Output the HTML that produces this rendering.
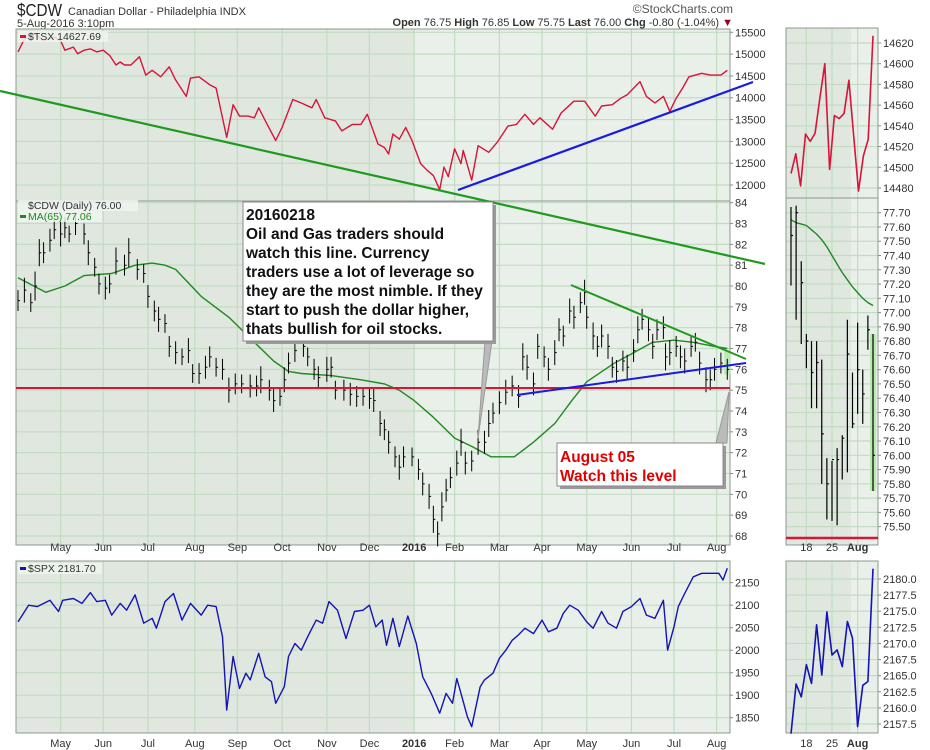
<!DOCTYPE html>
<html><head><meta charset="utf-8"><style>
html,body{margin:0;padding:0;background:#fff;}
svg{display:block;font-family:"Liberation Sans",Arial,sans-serif;}
.ax{font-size:11px;fill:#333;}
</style></head><body>
<svg id="chart" width="930" height="750" viewBox="0 0 930 750" xmlns="http://www.w3.org/2000/svg">
<g id="hdr">
<text x="17" y="16" font-size="18" fill="#222" transform="translate(17 0) scale(0.85 1) translate(-17 0)">$CDW</text>
<text x="68" y="15" font-size="11" fill="#333">Canadian Dollar - Philadelphia INDX</text>
<text x="17" y="27" font-size="11" fill="#333">5-Aug-2016 3:10pm</text>
<text x="733" y="13" font-size="12" fill="#555" text-anchor="end">©StockCharts.com</text>
<text x="733" y="26" font-size="11" fill="#333" text-anchor="end"><tspan font-weight="bold">Open</tspan> 76.75 <tspan font-weight="bold">High</tspan> 76.85 <tspan font-weight="bold">Low</tspan> 75.75 <tspan font-weight="bold">Last</tspan> 76.00 <tspan font-weight="bold">Chg</tspan> -0.80 (-1.04%)<tspan fill="#a00020"> ▼</tspan></text>
</g>
</svg>
<script>
// ---------- DATA ----------
const monthLabels = ["May","Jun","Jul","Aug","Sep","Oct","Nov","Dec","2016","Feb","Mar","Apr","May","Jun","Jul","Aug"];
const monthDays = [20,40,61,83,103,124,145,165,186,205,226,246,267,288,308,328];
const tsxTicks = [15500,15000,14500,14000,13500,13000,12500,12000];
const cdwTicks = [84,83,82,81,80,79,78,77,76,75,74,73,72,71,70,69,68];
const spxTicks = [2150,2100,2050,2000,1950,1900,1850];

const tsxDays = [0,3,8,12,17,20,22,26,28,31,34,37,40,43,46,48,50,53,57,60,63,67,71,74,79,81,85,90,93,98,101,104,108,111,113,117,121,124,129,133,138,140,144,149,152,157,161,164,169,172,174,176,179,182,185,189,192,195,198,200,202,205,208,209,213,216,221,225,230,234,238,242,245,251,255,261,266,271,274,279,283,286,292,295,299,303,306,309,312,315,321,325,330,333];
const tsxVals = [15050,15350,15460,15310,15390,15310,15090,15160,15010,15090,15120,15050,15090,14970,14750,14820,14750,14750,14940,14520,14630,14480,14710,14410,14030,14450,14480,14300,14220,13090,13840,13580,13580,13540,13770,13390,13020,13320,13960,13880,13770,13960,13540,13470,13240,13390,13390,13620,12940,12860,12710,13170,13050,13320,13020,12490,12340,12220,11890,12410,12190,12830,12490,12790,12110,12900,12750,12980,13350,13390,13620,13390,13540,13280,13650,13920,13920,13580,13810,13840,13990,14070,14370,14030,13880,14030,13690,13990,14220,14480,14560,14520,14520,14630];

const cdwDays = [0,3,6,8,10,12,15,17,20,22,24,27,31,33,36,38,41,43,46,50,52,56,59,61,64,66,69,71,74,77,80,82,85,88,90,93,96,99,102,105,109,112,114,118,120,123,125,127,130,134,136,139,141,145,147,149,153,156,159,162,165,167,170,172,174,177,179,181,185,188,190,193,195,197,199,201,203,206,208,210,213,216,219,221,223,226,229,232,235,237,239,242,244,247,249,252,254,256,259,261,264,266,267,270,272,274,277,279,281,284,286,289,291,293,296,298,300,303,304,306,309,311,313,316,318,320,323,325,327,330,333];
const cdwClose = [79.3,79.8,79.2,80.0,81.6,81.6,82.2,82.7,82.5,82.8,82.5,83.0,82.5,81.6,80.9,80.1,79.9,80.1,81.2,81.0,81.6,80.8,80.6,79.5,78.8,78.4,78.2,77.1,76.8,76.6,76.9,75.8,75.8,76.1,76.6,76.1,76.0,75.0,75.3,75.3,75.2,75.2,75.5,75.0,74.5,74.7,75.5,76.3,76.9,77.1,76.6,76.0,75.6,76.0,76.1,75.0,75.0,74.8,74.7,74.7,74.6,74.5,73.4,73.1,72.5,71.8,71.3,71.8,71.8,71.2,70.5,69.9,68.8,68.1,69.4,70.2,70.8,71.5,72.5,71.5,71.6,72.5,72.5,73.4,73.9,74.4,74.9,75.2,74.7,76.6,76.1,75.3,77.1,76.6,76.0,76.8,77.9,77.6,78.8,78.5,79.2,79.7,78.5,77.6,77.1,77.6,77.1,76.1,75.9,76.4,76.1,76.9,77.9,78.4,77.9,77.1,77.9,78.0,76.6,76.8,77.1,76.6,76.4,77.1,77.3,76.3,75.5,75.5,76.0,76.3,76.0];
const cdwSpread = [1.0,1.2,0.9,1.4,1.3,1.0,1.1,0.9,1.2,1.0,0.8,1.1,1.0,1.2,0.9,1.0,1.1,0.9,1.3,1.0,1.4,1.0,0.9,1.1,1.0,1.2,0.9,1.0,1.1,0.8,1.2,0.9,1.0,1.1,1.0,0.9,1.0,1.2,1.0,0.9,1.1,1.0,1.3,1.0,1.1,0.9,1.2,1.0,1.1,1.0,0.9,1.0,1.1,1.2,1.0,0.9,1.0,1.1,1.0,0.9,1.0,1.1,1.2,1.0,1.1,1.0,1.2,1.0,0.9,1.0,1.1,1.2,1.3,1.2,1.4,1.1,1.0,1.2,1.3,1.1,1.0,1.2,1.1,1.3,1.0,1.1,1.2,1.0,1.1,1.3,1.2,1.1,1.2,1.0,1.1,1.2,1.1,1.0,1.2,1.1,1.0,1.2,1.1,1.3,1.0,1.1,1.2,1.0,1.1,1.0,1.2,1.1,1.3,1.0,1.1,1.2,1.0,1.1,1.3,1.2,1.0,1.1,1.2,1.0,0.9,1.1,1.2,1.0,1.1];

const maDays = [0,13,22,31,44,55,63,69,74,86,99,111,120,127,133,147,161,172,179,186,195,205,213,222,233,242,252,260,267,280,289,298,308,317,327,333];
const maVals = [80.4,79.7,80.0,80.5,80.6,81.0,81.1,81.0,80.8,79.5,78.5,77.3,76.4,75.9,75.8,75.7,75.5,75.3,75.0,74.5,73.7,72.7,72.3,71.8,71.8,72.5,73.4,74.5,75.4,76.3,76.8,77.3,77.4,77.3,77.1,77.0];

const spxDays = [0,5,9,15,19,21,26,30,34,37,41,44,48,51,55,59,63,65,69,73,77,81,86,89,93,96,98,101,104,107,109,113,116,119,121,125,127,130,133,136,140,143,146,150,154,158,162,165,168,171,173,176,179,183,187,190,194,198,201,204,206,208,211,213,217,219,223,226,229,232,235,238,242,246,249,253,256,259,263,267,270,274,277,281,284,288,292,295,299,303,305,308,310,313,317,321,325,329,331,333];
const spxVals = [2063,2100,2097,2111,2086,2111,2115,2104,2128,2108,2111,2078,2104,2089,2123,2060,2071,2049,2108,2126,2067,2104,2078,2100,2097,2030,1867,1986,1915,1949,1934,1993,1941,1930,1882,1919,1986,2015,2000,2030,2067,2060,2108,2089,2026,2086,2089,2100,2052,2067,2011,2071,2008,2076,2015,1941,1904,1860,1904,1882,1937,1904,1852,1830,1919,1934,1949,1982,2000,2022,2034,2049,2037,2067,2041,2049,2082,2100,2089,2063,2049,2086,2060,2049,2086,2097,2115,2078,2071,2111,2000,2052,2097,2126,2163,2171,2171,2171,2156,2182];

// side (zoomed) panels
const sideLabels = ["18","25","Aug"];
const sideLabelIdx = [3,8,13];
const sideTsxTicks = [14620,14600,14580,14560,14540,14520,14500,14480];
const sideTsxVals = [14494,14513,14482,14532,14525,14533,14567,14600,14498,14550,14547,14552,14584,14530,14477,14511,14527,14627];
const sideCdwTicks = [77.7,77.6,77.5,77.4,77.3,77.2,77.1,77.0,76.9,76.8,76.7,76.6,76.5,76.4,76.3,76.2,76.1,76.0,75.9,75.8,75.7,75.6,75.5];
const sideCdwHigh = [77.74,77.75,77.36,76.85,76.80,76.80,76.67,75.98,75.96,76.05,76.14,76.95,76.58,76.93,76.60,76.98,76.85];
const sideCdwLow = [77.19,76.95,76.78,76.61,76.33,76.33,75.80,75.55,75.54,75.51,75.83,75.88,76.19,76.29,76.22,76.74,75.75];
const sideCdwClose = [77.54,77.70,77.21,76.80,76.58,76.65,76.15,75.80,75.97,75.97,76.12,76.71,76.22,76.60,76.43,76.88,76.00];
const sideMaVals = [77.65,77.63,77.62,77.61,77.58,77.55,77.51,77.46,77.40,77.34,77.28,77.23,77.18,77.14,77.10,77.07,77.05];
const sideSpxTicks = [2180.0,2177.5,2175.0,2172.5,2170.0,2167.5,2165.0,2162.5,2160.0,2157.5];
const sideSpxVals = [2156.0,2163.7,2161.7,2166.7,2163.8,2172.9,2165.1,2174.9,2168.2,2169.0,2166.4,2173.4,2170.8,2157.1,2163.5,2164.1,2181.6];

// ---------- GEOMETRY ----------
const L=16, R=730, SL=786, SR=878;
const P = {tsx:[29,201], cdw:[201,545], spx:[561,733]};
const xMain = d => L + 2 + d*2.13;
const yTsx = v => 32.3 + (15500-v)*0.04363;
const yCdw = v => 202.7 + (84-v)*20.83;
const ySpx = v => 582.7 + (2150-v)*0.45;
const xSide = (i,n) => SL + 5 + i*(SR-SL-10)/(n-1);
const ySTsx = v => 43 + (14620-v)*1.0357;
const ySCdw = v => 212.7 + (77.7-v)*142.7;
const ySSpx = v => 579 + (2180-v)*6.444;

const NS="http://www.w3.org/2000/svg";
const svg=document.getElementById('chart');
function mk(tag, attrs, parent){const e=document.createElementNS(NS,tag);for(const k in attrs)e.setAttribute(k,attrs[k]);(parent||svg).appendChild(e);return e;}

function panel(name, x0,x1,y0,y1, shadeTo, ticks, yf, fmt, days, dayX){
  const g=mk('g',{});
  
  
  mk('rect',{x:x0,y:y0,width:x1-x0,height:y1-y0,fill:'#e9efe9'},g);
  mk('rect',{x:x0,y:y0,width:shadeTo-x0,height:y1-y0,fill:'#dfe7df'},g);
  ticks.forEach(t=>{const y=yf(t); if(y>y0+1&&y<y1-1) mk('line',{x1:x0,x2:x1,y1:y,y2:y,stroke:'#c3dbc3','stroke-width':1.2},g);
    const lb=mk('text',{x:x1+5,y:y+4,class:'ax'},g); lb.textContent=fmt(t);
    
    
    mk('line',{x1:x1,x2:x1+3,y1:y,y2:y,stroke:'#888'},g);
  });
  days.forEach(d=>{const x=dayX(d); mk('line',{x1:x,x2:x,y1:y0,y2:y1,stroke:'#c3dbc3','stroke-width':1.2},g);});
  mk('rect',{x:x0,y:y0,width:x1-x0,height:y1-y0,fill:'none',stroke:'#8d9a8d'},g);
  return g;
}
function xLabels(y, name){
  monthLabels.forEach((m,i)=>{const x=xMain(monthDays[i]);
    const t=mk('text',{x:x,y:y,class:'ax','text-anchor':'middle','font-weight':m==='2016'?'bold':'normal'});
    t.textContent=m;
    
    
  });
  sideLabels.forEach((m,i)=>{const x=xSide(sideLabelIdx[i],17);
    const t=mk('text',{x:x,y:y,class:'ax','text-anchor':'middle','font-weight':m==='Aug'?'bold':'normal'});
    t.textContent=m;
    
    
  });
}
const sideGridIdx = sideLabelIdx;
panel('tsx',L,R,P.tsx[0],P.tsx[1],414,tsxTicks,yTsx,v=>v,monthDays,xMain);
panel('cdw',L,R,P.cdw[0],P.cdw[1],414,cdwTicks,yCdw,v=>v,monthDays,xMain);
panel('spx',L,R,P.spx[0],P.spx[1],414,spxTicks,ySpx,v=>v,monthDays,xMain);
panel('side-tsx',SL,SR,28,198,851,sideTsxTicks,ySTsx,v=>v,sideGridIdx,i=>xSide(i,17));
panel('side-cdw',SL,SR,198,545,851,sideCdwTicks,ySCdw,v=>v.toFixed(2),sideGridIdx,i=>xSide(i,17));
panel('side-spx',SL,SR,561,733,851,sideSpxTicks,ySSpx,v=>v.toFixed(1),sideGridIdx,i=>xSide(i,17));
xLabels(551,'mid');
xLabels(747,'bottom');

const hl1=mk('rect',{x:xMain(333)-3,y:yCdw(76.85),width:6,height:yCdw(75.75)-yCdw(76.85),fill:'#b8eab0'});


const hl2=mk('rect',{x:xSide(16,17)-3,y:ySCdw(76.85),width:6,height:ySCdw(75.75)-ySCdw(76.85),fill:'#b8eab0'});



function line(xs, ys, color, w, name){
  const pts=xs.map((x,i)=>x.toFixed(1)+','+ys[i].toFixed(1)).join(' ');
  const p=mk('polyline',{points:pts,fill:'none',stroke:color,'stroke-width':w,'stroke-linejoin':'round'});
  
  
}
line(tsxDays.map(xMain), tsxVals.map(yTsx), '#d8143a', 1.4, 'tsx-line');
line(maDays.map(xMain), maVals.map(yCdw), '#1e8a1e', 1.4, 'cdw-ma65-line');
line(spxDays.map(xMain), spxVals.map(ySpx), '#1414b4', 1.4, 'spx-line');
line(sideTsxVals.map((v,i)=>xSide(i,sideTsxVals.length)), sideTsxVals.map(ySTsx), '#d8143a', 1.6, 'side-tsx-line');
line(sideMaVals.map((v,i)=>xSide(i,sideMaVals.length)), sideMaVals.map(ySCdw), '#1e8a1e', 1.4, 'side-ma65-line');
line(sideSpxVals.map((v,i)=>xSide(i,sideSpxVals.length)), sideSpxVals.map(v=>ySSpx(v)), '#1414b4', 1.6, 'side-spx-line');

cdwDays.forEach((d,i)=>{
  const c=cdwClose[i], s=(cdwSpread[i]!==undefined?cdwSpread[i]:1.0);
  const x=xMain(d);
  const b=mk('path',{d:`M${x},${yCdw(c+s/2)}V${yCdw(c-s/2)}M${x},${yCdw(c)}h2`,stroke:'#000','stroke-width':1,fill:'none'});
  
  
});
sideCdwClose.forEach((c,i)=>{
  const x=xSide(i,sideCdwClose.length);
  const b=mk('path',{d:`M${x},${ySCdw(sideCdwHigh[i])}V${ySCdw(sideCdwLow[i])}M${x},${ySCdw(c)}h2`,stroke:'#000','stroke-width':1.2,fill:'none'});
  
  
});

function legend(x,y,txt,color,name,sym){
  const g=mk('g',{});
  
  
  mk('rect',{x:x,y:y-9,width:txt.length*6+12,height:11,fill:'#eef3ee',opacity:0.85},g);
  if(sym) mk('rect',{x:x+2,y:y-5,width:6,height:3,fill:color},g);
  const t=mk('text',{x:x+10,y:y,'font-size':10.5,fill:color==='#1e8a1e'?color:'#333'},g); t.textContent=txt;
}
legend(18,40,'$TSX 14627.69','#d8143a','tsx-legend',true);
legend(18,209,'$CDW (Daily) 76.00','#000','cdw-legend',false);
legend(18,220,'MA(65) 77.06','#1e8a1e','ma65-legend',true);
legend(18,572,'$SPX 2181.70','#1414b4','spx-legend',true);
</script>
<svg style="position:absolute;left:0;top:0" width="930" height="750">
<line x1="16" y1="388" x2="730" y2="388" stroke="#d8143a" stroke-width="2"/>
<line x1="786" y1="538" x2="878" y2="538" stroke="#d8143a" stroke-width="2.5"/>
<line x1="0" y1="91" x2="765" y2="264" stroke="#1e9a1e" stroke-width="2.2"/>
<line x1="458" y1="190" x2="753" y2="82" stroke="#1a1ae0" stroke-width="2.2"/>
<line x1="517" y1="395" x2="746" y2="363" stroke="#1a1ae0" stroke-width="2"/>
<line x1="571" y1="285" x2="746" y2="359" stroke="#1e9a1e" stroke-width="2"/>
<g>
<polygon points="485,341 492,341 478,438" fill="#bbb" stroke="#999" stroke-width="1"/>
<rect x="246" y="205" width="250" height="139" fill="#999"/>
<rect x="243" y="202" width="250" height="139" fill="#fff" stroke="#888"/>
<g font-size="15.5" font-weight="bold" fill="#111">
<text x="246" y="220">20160218</text>
<text x="246" y="239">Oil and Gas traders should</text>
<text x="246" y="258">watch this line. Currency</text>
<text x="246" y="277">traders use a lot of leverage so</text>
<text x="246" y="296">they are the most nimble. If they</text>
<text x="246" y="315">start to push the dollar higher,</text>
<text x="246" y="334">thats bullish for oil stocks.</text>
</g></g>
<g>
<polygon points="716,443 727,443 729,392" fill="#bbb" stroke="#999" stroke-width="1"/>
<rect x="560" y="446" width="166" height="43" fill="#999"/>
<rect x="557" y="443" width="166" height="43" fill="#fff" stroke="#888"/>
<text x="560" y="462" font-size="15.5" font-weight="bold" fill="#e00000">August 05</text>
<text x="560" y="481" font-size="15.5" font-weight="bold" fill="#e00000">Watch this level</text>
</g>
</svg>
</body></html>
